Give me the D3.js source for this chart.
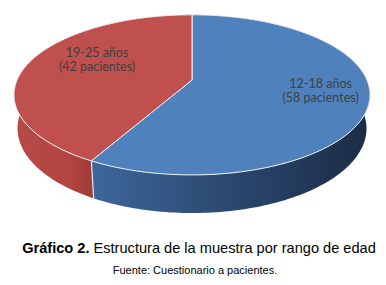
<!DOCTYPE html>
<html>
<head>
<meta charset="utf-8">
<script src="https://cdn.jsdelivr.net/npm/d3@7"></script>
<style>
  html, body { margin: 0; padding: 0; background: #fff; }
  svg { display: block; }
</style>
</head>
<body>
<svg width="386" height="285"></svg>
<script>
// data
const categories = ["12-18 años", "19-25 años"];
const patients = [58, 42];
const labelLines = ["(58 pacientes)", "(42 pacientes)"];
const topColors = ["#4f81bd", "#c0504d"];

window.addEventListener('load', (e) => {
    const svg = d3.select("svg");

    // fake 3d: a tilted disk seen in perspective
    const cx = 192, cy = 80,
        scale = 846,      // focal length
        dist = 4.836,     // camera distance (disk radius = 1)
        tilt = 0.4577,    // elevation angle in radians
        thick = 0.2146;   // disk thickness

    const sinT = Math.sin(tilt), cosT = Math.cos(tilt);

    // angle a: clockwise from the far point (12 o'clock), like d3.pie
    function project(r, a, h) {
        const X = r * Math.sin(a), Z = r * Math.cos(a);
        const yc = Z * sinT - h * cosT;
        const d = dist + Z * cosT + h * sinT;
        return [cx + scale * X / d, cy - scale * yc / d];
    }

    function arcPoints(a0, a1, h) {
        const n = Math.max(2, Math.ceil(Math.abs(a1 - a0) / 0.02));
        return d3.range(n + 1).map(i => project(1, a0 + (a1 - a0) * i / n, h));
    }

    const pie = d3.pie().sort(null).value(d => d);
    const slices = pie(patients);
    const line = d3.line();

    // gradients for the side wall
    const defs = svg.append("defs");
    const sideStops = [
        [["0%", "#4a79b0"], ["22%", "#3d679b"], ["60%", "#2b4870"], ["100%", "#1b2c45"]],
        [["0%", "#b64a46"], ["15%", "#b24542"], ["22%", "#9f3b38"], ["100%", "#8a302e"]]
    ];
    sideStops.forEach((stops, i) => {
        const g = defs.append("linearGradient")
            .attr("id", "side" + i)
            .attr("gradientUnits", "userSpaceOnUse")
            .attr("x1", 15).attr("x2", 369).attr("y1", 0).attr("y2", 0);
        stops.forEach(s => g.append("stop").attr("offset", s[0]).attr("stop-color", s[1]));
    });

    const chart = svg.append("g");

    // outer walls first
    chart.selectAll(".wall")
        .data(slices)
        .enter().append("path")
        .attr("class", "wall")
        .attr("fill", (d, i) => "url(#side" + i + ")")
        .attr("d", d => {
            const top = arcPoints(d.startAngle, d.endAngle, 0);
            const bottom = arcPoints(d.startAngle, d.endAngle, thick).reverse();
            return line(top.concat(bottom)) + "Z";
        });

    // seams on the front of the wall
    const edges = slices.map(d => d.startAngle).filter(a => Math.cos(a) < 0);
    chart.selectAll(".seam")
        .data(edges)
        .enter().append("path")
        .attr("class", "seam")
        .attr("stroke", "#e8e8ee")
        .attr("stroke-width", 1.2)
        .attr("d", a => line([project(1, a, 0), project(1, a, thick)]));

    // top faces
    chart.selectAll(".top")
        .data(slices)
        .enter().append("path")
        .attr("class", "top")
        .attr("fill", (d, i) => topColors[i])
        .attr("stroke", "#f2f2f6")
        .attr("stroke-width", 1)
        .attr("stroke-linejoin", "round")
        .attr("d", d => {
            const pts = [project(0, 0, 0)].concat(arcPoints(d.startAngle, d.endAngle, 0));
            return line(pts) + "Z";
        });

    // data labels
    const labelR = [0.75, 0.6];
    const labelShift = [[-3, -3], [4, -8]];
    const labels = chart.selectAll(".label")
        .data(slices)
        .enter().append("text")
        .attr("class", "label")
        .attr("text-anchor", "middle")
        .style("font-family", "Lato, 'Open Sans', sans-serif")
        .style("font-size", "12.5px")
        .attr("fill", "#404040")
        .attr("transform", (d, i) => {
            const p = project(labelR[i], (d.startAngle + d.endAngle) / 2, 0);
            return "translate(" + (p[0] + labelShift[i][0]) + "," + (p[1] + labelShift[i][1]) + ")";
        });
    labels.append("tspan").attr("x", 0).attr("y", -4).text((d, i) => categories[i]);
    labels.append("tspan").attr("x", 0).attr("y", 10.5).text((d, i) => labelLines[i]);

    // caption
    const title = svg.append("text")
        .attr("x", 199).attr("y", 253)
        .attr("text-anchor", "middle")
        .style("font-family", "'Liberation Sans', Arial, sans-serif")
        .style("font-size", "14.6px")
        .attr("fill", "#000");
    title.append("tspan").style("font-weight", "bold").text("Gráfico 2.");
    title.append("tspan").text(" Estructura de la muestra por rango de edad");

    svg.append("text")
        .attr("x", 195).attr("y", 274)
        .attr("text-anchor", "middle")
        .style("font-family", "'Liberation Sans', Arial, sans-serif")
        .style("font-size", "11px")
        .attr("fill", "#000")
        .text("Fuente: Cuestionario a pacientes.");
})
</script>
</body>
</html>
